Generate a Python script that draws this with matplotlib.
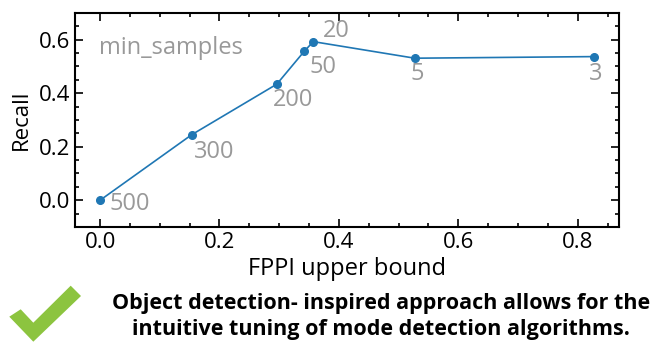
import numpy as np
import matplotlib
matplotlib.use("Agg")
import matplotlib.pyplot as plt
from matplotlib.patches import Polygon
from matplotlib.ticker import MultipleLocator

plt.rcParams['font.family'] = ['Open Sans', 'DejaVu Sans']

# ____data
fppi = [0.0, 0.1535, 0.296, 0.342, 0.357, 0.527, 0.827]
recall = [0.0, 0.245, 0.434, 0.557, 0.593, 0.531, 0.537]
min_samples = ["500", "300", "200", "50", "20", "5", "3"]

# label offsets in points (dx, dy) and horizontal alignment
label_offsets = [(6.5, -3), (1.5, -12.5), (-3, -11.5), (3.5, -11), (7, 7.5), (2, -11.5), (1.5, -12.5)]
label_ha = ["left", "left", "left", "left", "left", "center", "center"]

fig = plt.figure(figsize=(6.63, 3.43), dpi=100)
ax = fig.add_axes([0.1131, 0.3382, 0.8205, 0.6239])

ax.plot(fppi, recall, color="#1f77b4", lw=1.2, marker="o", ms=5.5)

for i in range(len(fppi)):
    ax.annotate(min_samples[i], (fppi[i], recall[i]), xytext=label_offsets[i],
                textcoords="offset points", ha=label_ha[i], va="center",
                color="#999999", fontsize=17)

ax.text(0.044, 0.835, "min_samples", transform=ax.transAxes, color="#999999",
        fontsize=17, va="center", ha="left")

ax.set_xlim(-0.042, 0.869)
ax.set_ylim(-0.1, 0.7)
ax.xaxis.set_major_locator(MultipleLocator(0.2))
ax.xaxis.set_minor_locator(MultipleLocator(0.05))
ax.yaxis.set_major_locator(MultipleLocator(0.2))
ax.yaxis.set_minor_locator(MultipleLocator(0.05))
ax.tick_params(which="both", direction="in", top=True, right=True, width=1.2)
ax.tick_params(which="major", length=6, labelsize=16)
ax.tick_params(which="minor", length=3)
for s in ax.spines.values():
    s.set_linewidth(1.5)

ax.set_xlabel("FPPI upper bound", fontsize=17, labelpad=3)
ax.set_ylabel("Recall", fontsize=16, labelpad=5)

fig.text(0.575, 0.078, "Object detection- inspired approach allows for the\nintuitive tuning of mode detection algorithms.",
         ha="center", va="center", multialignment="center", fontsize=15.5,
         fontweight="bold", linespacing=1.3)

# green check mark (figure pixel coords, y from top)
check_px = [(9.3, 316.7), (20.7, 309.3), (33.3, 322.7), (70.7, 285.7), (81, 296), (33.3, 341.7)]
check = Polygon([(x / 663, 1 - y / 343) for x, y in check_px], closed=True,
                transform=fig.transFigure, facecolor="#8cc43f", edgecolor="none")
fig.add_artist(check)

fig.savefig("out.png", dpi=100)
